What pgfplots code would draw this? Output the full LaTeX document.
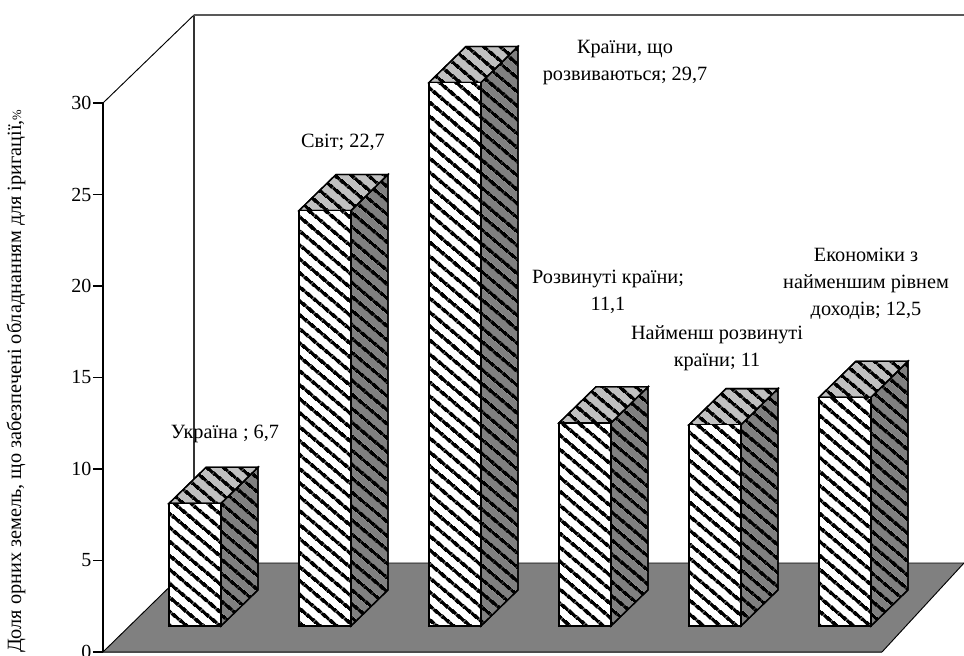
\documentclass[border=0pt]{standalone}
\usepackage{fontspec}
\setmainfont{Liberation Serif}
\usepackage{pgfplots}
\pgfplotsset{compat=1.18}
\usetikzlibrary{patterns.meta}
\definecolor{floorgray}{HTML}{808080}
\definecolor{topgray}{HTML}{C0C0C0}
\tikzset{
  stripes/.style={pattern={Lines[angle=-40,distance=7.65pt,line width=2.7pt]},pattern color=black},
  face/.style={draw=black,line width=1pt,fill=#1,postaction={stripes}},
  lab/.style={align=center,font=\fontsize{15.2}{20.25}\selectfont,inner sep=0pt},
}
\pgfplotsset{
  base/.style={
    scale only axis,width=645.75pt,height=411.75pt,
    xmin=103,xmax=964,clip=false,
  }
}
\begin{document}
\begin{tikzpicture}
\useasboundingbox (-77.25pt,-3pt) rectangle (645.75pt,489pt);
\begin{axis}[base,ymin=0,ymax=30,
  axis x line=none,axis y line=left,
  axis line style={-,black,line width=0.8pt},
  xtick=\empty,ytick={0,5,10,15,20,25,30},
  tick align=outside,major tick length=7.5pt,
  tick style={black,line width=0.8pt},
  yticklabel style={font=\fontsize{15}{15}\selectfont,/pgf/number format/assume math mode=true,inner sep=1pt},
]
% floor
\addplot[draw=none,fill=floorgray] coordinates {(103,0) (882,0) (964,4.863) (194,4.863)} -- cycle;
\addplot[draw=black!70,line width=1pt] coordinates {(103,0) (882,0)};
\addplot[draw=black,line width=0.7pt] coordinates {(103,0) (194,4.863) (964,4.863)};
\addplot[draw=black,line width=0.7pt] coordinates {(882,0) (964,4.863)};
% walls
\addplot[draw=black,line width=0.7pt] coordinates {(103,30) (194,34.81)};
\addplot[draw=black!80,line width=1pt] coordinates {(194,4.863) (194,34.81)};
\addplot[draw=black!65,line width=1pt] coordinates {(194,34.81) (964,34.81)};
\node[rotate=90,font=\fontsize{15.2}{15}\selectfont,inner sep=0pt] at (axis cs:16,14.8)
  {Доля орних земель, що забезпечені обладнанням для іригації,{\fontsize{9.5}{10}\selectfont\%}};
\end{axis}
\begin{axis}[base,ymin=-1.421,ymax=28.579,hide axis]
% side faces
\addplot[face=floorgray] coordinates {(221,0) (258,1.97) (258,8.67) (221,6.7)} -- cycle;
\addplot[face=floorgray] coordinates {(351,0) (388,1.97) (388,24.67) (351,22.7)} -- cycle;
\addplot[face=floorgray] coordinates {(481,0) (518,1.97) (518,31.67) (481,29.7)} -- cycle;
\addplot[face=floorgray] coordinates {(611,0) (648,1.97) (648,13.07) (611,11.1)} -- cycle;
\addplot[face=floorgray] coordinates {(741,0) (778,1.97) (778,12.97) (741,11)} -- cycle;
\addplot[face=floorgray] coordinates {(871,0) (908,1.97) (908,14.47) (871,12.5)} -- cycle;
% top faces
\addplot[face=topgray] coordinates {(169,6.7) (221,6.7) (258,8.67) (206,8.67)} -- cycle;
\addplot[face=topgray] coordinates {(299,22.7) (351,22.7) (388,24.67) (336,24.67)} -- cycle;
\addplot[face=topgray] coordinates {(429,29.7) (481,29.7) (518,31.67) (466,31.67)} -- cycle;
\addplot[face=topgray] coordinates {(559,11.1) (611,11.1) (648,13.07) (596,13.07)} -- cycle;
\addplot[face=topgray] coordinates {(689,11) (741,11) (778,12.97) (726,12.97)} -- cycle;
\addplot[face=topgray] coordinates {(819,12.5) (871,12.5) (908,14.47) (856,14.47)} -- cycle;
% front faces
\addplot[ybar,bar width=39pt,bar shift=0pt,face=white] coordinates {(195,6.7) (325,22.7) (455,29.7) (585,11.1) (715,11) (845,12.5)};
% labels
\node[lab] at (axis cs:225,10.5) {Україна ; 6,7};
\node[lab] at (axis cs:343,26.45) {Світ; 22,7};
\node[lab,anchor=north] at (axis cs:625,32.0) {Країни, що\\розвиваються; 29,7};
\node[lab,anchor=north] at (axis cs:608,19.45) {Розвинуті країни;\\11,1};
\node[lab,anchor=north] at (axis cs:717,16.45) {Найменш розвинуті\\країни; 11};
\node[lab,anchor=north] at (axis cs:866,20.65) {Економіки з\\найменшим рівнем\\доходів; 12,5};
\end{axis}
\end{tikzpicture}
\end{document}
